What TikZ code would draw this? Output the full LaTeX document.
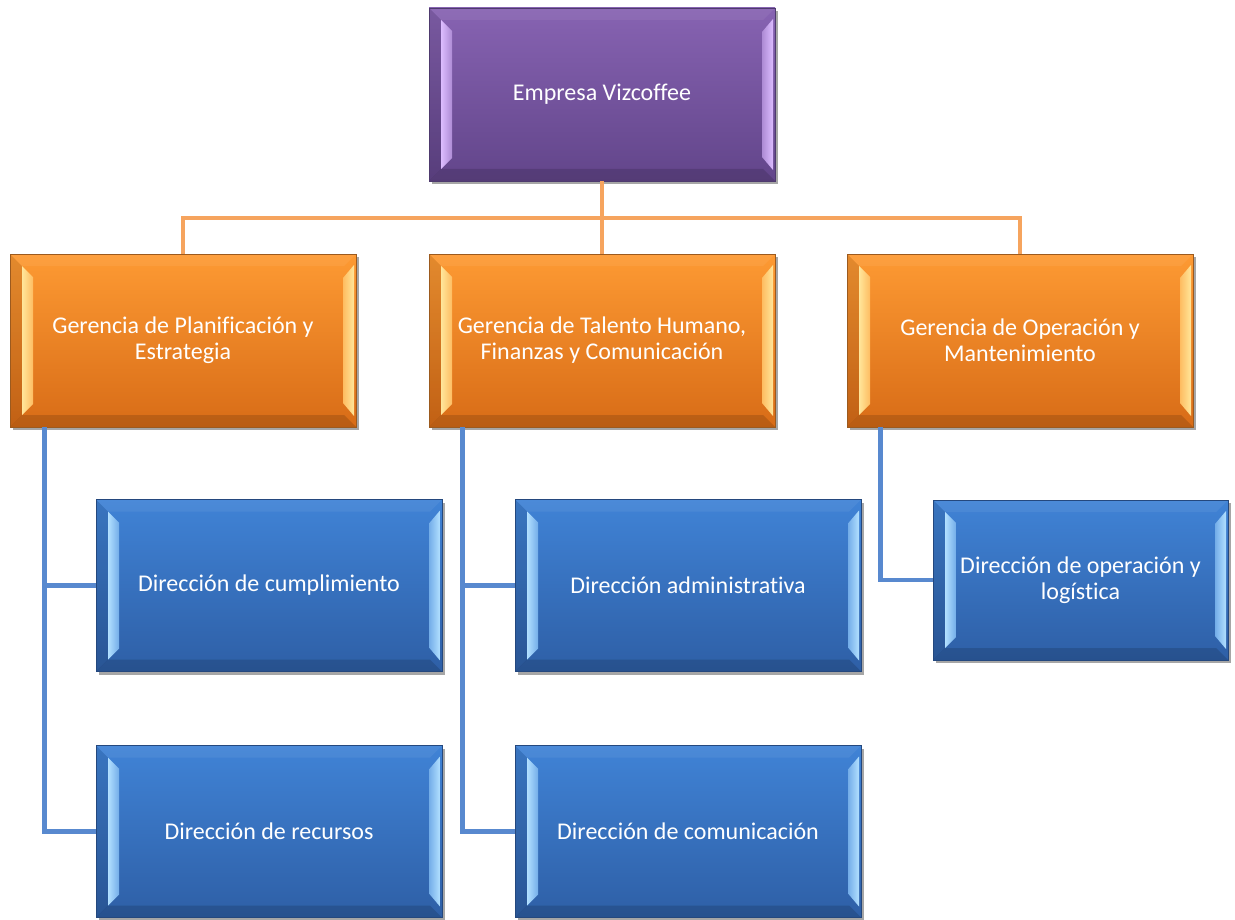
\documentclass[tikz,border=0pt]{standalone}
\usepackage{fontspec}
\setmainfont{Carlito}[Ligatures=NoCommon]
\usetikzlibrary{calc,shadows}
\definecolor{purpTop}{HTML}{8763B2}
\definecolor{purpBot}{HTML}{62458A}
\definecolor{purpLight}{HTML}{DCBCFF}
\definecolor{purpLine}{HTML}{4E3A6E}
\definecolor{oranTop}{HTML}{FD9A33}
\definecolor{oranBot}{HTML}{D86C17}
\definecolor{oranLight}{HTML}{FFE69A}
\definecolor{oranLine}{HTML}{9C5A1E}
\definecolor{bluTop}{HTML}{4083D6}
\definecolor{bluBot}{HTML}{2E5FA6}
\definecolor{bluLight}{HTML}{B2E0FF}
\definecolor{bluLine}{HTML}{24487E}
\definecolor{orLink}{HTML}{F6A45E}
\definecolor{blLink}{HTML}{5889CF}
\tikzset{
  bev/.style={
    top color=#1Top, bottom color=#1Bot, draw=#1Line, line width=0.7pt,
    drop shadow={shadow xshift=2pt, shadow yshift=-2.5pt, fill=black, opacity=0.35},
    text=white, align=center, inner sep=0pt,
    font=\fontsize{18}{19.5}\selectfont,
    path picture={
      \coordinate (nw) at (path picture bounding box.north west);
      \coordinate (se) at (path picture bounding box.south east);
      \coordinate (ne) at (se |- nw);
      \coordinate (sw) at (nw |- se);
      \fill[white, opacity=0.06] (nw) -- (ne) -- ($(ne)+(-12,12)$) -- ($(nw)+(12,12)$) -- cycle;
      \fill[black, opacity=0.10] (nw) -- ($(nw)+(12,12)$) -- ($(sw)+(12,-12)$) -- (sw) -- cycle;
      \fill[black, opacity=0.14] (sw) -- ($(sw)+(12,-12)$) -- ($(se)+(-12,-12)$) -- (se) -- cycle;
      \shade[left color=#1Light, right color=#1Light!45!#1Top]
        ($(nw)+(12,12)$) -- ($(nw)+(23,23)$) -- ($(sw)+(23,-23)$) -- ($(sw)+(12,-12)$) -- cycle;
      \shade[left color=#1Light!45!#1Top, right color=#1Light]
        ($(ne)+(-13,24)$) -- ($(ne)+(-2,11)$) -- ($(se)+(-2,-11)$) -- ($(se)+(-13,-24)$) -- cycle;
    }},
  bigbox/.style={minimum width=259.5pt, minimum height=129.75pt},
  subbox/.style={minimum width=259.5pt, minimum height=129pt},
  smallbox/.style={minimum width=221.25pt, minimum height=120pt},
  orline/.style={draw=orLink, line width=3.6pt},
  blline/.style={draw=blLink, line width=3.6pt}
}
\begin{document}
\begin{tikzpicture}[x=0.75pt, y=-0.75pt]
\useasboundingbox (0,0) rectangle (1235,920);
\coordinate (bus) at (602,218);
\node[bev=purp, bigbox] (top) at (602,94.5) {Empresa Vizcoffee};
\node[bev=oran, bigbox] (g1) at (183,340.5) {Gerencia de Planificación y\\Estrategia};
\node[bev=oran, bigbox] (g2) at (602,340.5) {Gerencia de Talento Humano,\\Finanzas y Comunicación};
\node[bev=oran, bigbox] (g3) at (1020,340.5) {Gerencia de Operación y\\Mantenimiento};
\node[bev=blu, subbox] (d11) at (269,585.5) {Dirección de cumplimiento};
\node[bev=blu, subbox] (d12) at (269,831.5) {Dirección de recursos};
\node[bev=blu, subbox] (d21) at (688,585.5) {Dirección administrativa};
\node[bev=blu, subbox] (d22) at (688,831.5) {Dirección de comunicación};
\node[bev=blu, smallbox] (d31) at (1080.5,580) {Dirección de operación y\\logística};
% orange connectors
\draw[orline] (top.south) -- (g2.north);
\draw[orline] (g1.north) |- (bus) -| (g3.north);
% blue connectors
\draw[blline] ([xshift=26.25pt]g1.south west) |- (d12.west);
\draw[blline] ([xshift=26.25pt]g1.south west |- d11.west) -- (d11.west);
\draw[blline] ([xshift=25.5pt]g2.south west) |- (d22.west);
\draw[blline] ([xshift=25.5pt]g2.south west |- d21.west) -- (d21.west);
\draw[blline] ([xshift=25.5pt]g3.south west) |- (d31.west);
\end{tikzpicture}
\end{document}
